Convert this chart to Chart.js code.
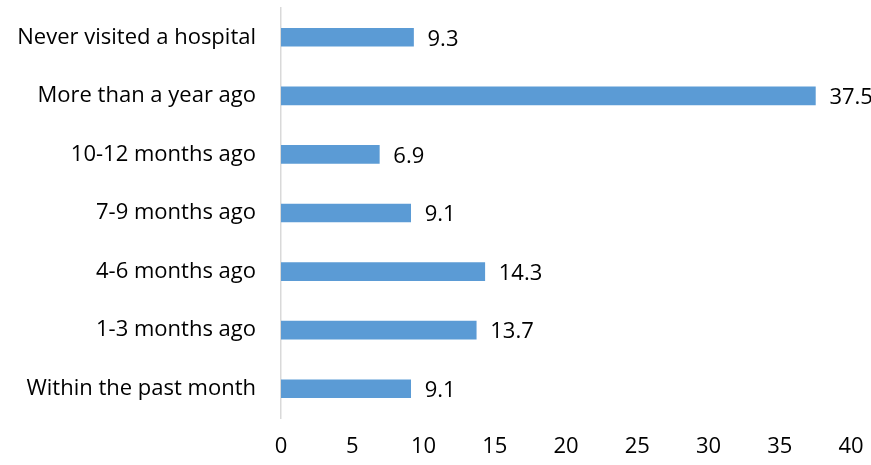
<!DOCTYPE html>
<html>
<head>
<meta charset="utf-8">
<script src="https://cdn.jsdelivr.net/npm/chart.js@4/dist/chart.umd.min.js"></script>
<style>
html,body{margin:0;padding:0;background:#fff;}
#wrap{width:871px;height:465px;position:relative;}
</style>
</head>
<body>
<div id="wrap"><canvas id="c" width="871" height="465"></canvas></div>
<script>
const categories = [
  "Never visited a hospital",
  "More than a year ago",
  "10-12 months ago",
  "7-9 months ago",
  "4-6 months ago",
  "1-3 months ago",
  "Within the past month"
];
const values = [9.3, 37.5, 6.9, 9.1, 14.3, 13.7, 9.1];
const xTicks = [0, 5, 10, 15, 20, 25, 30, 35, 40];

const FONT = "'Open Sans', 'Liberation Sans', sans-serif";
const FSIZE = 22;

const valueLabels = {
  id: 'valueLabels',
  afterDatasetsDraw(chart) {
    const ctx = chart.ctx;
    const meta = chart.getDatasetMeta(0);
    ctx.save();
    ctx.font = FSIZE + "px " + FONT;
    ctx.fillStyle = "#000";
    ctx.textAlign = "left";
    ctx.textBaseline = "middle";
    meta.data.forEach((bar, i) => {
      ctx.fillText(String(values[i]), bar.x + 14, bar.y + 2);
    });
    ctx.restore();
  }
};

new Chart(document.getElementById('c'), {
  type: 'bar',
  data: {
    labels: categories,
    datasets: [{
      data: values,
      backgroundColor: '#5B9BD5',
      borderWidth: 0,
      barThickness: 18
    }]
  },
  options: {
    indexAxis: 'y',
    responsive: false,
    animation: false,
    layout: { padding: { top: 8, right: 20, left: 0, bottom: 0 } },
    plugins: { legend: { display: false }, tooltip: { enabled: false } },
    scales: {
      x: {
        min: 0, max: 40,
        afterBuildTicks(scale) { scale.ticks = xTicks.map(v => ({ value: v })); },
        afterFit(scale) { scale.height = 47; scale.paddingLeft = 0; scale.paddingRight = 0; },
        grid: { display: false, drawTicks: false },
        border: { display: false },
        ticks: { color: '#000', font: { family: FONT, size: FSIZE }, padding: 16, maxRotation: 0 }
      },
      y: {
        afterFit(scale) { scale.width = 281; scale.paddingTop = 0; scale.paddingBottom = 0; },
        grid: { display: false, drawTicks: false },
        border: { display: true, color: '#d9d9d9', width: 1.5 },
        ticks: { color: '#000', font: { family: FONT, size: FSIZE }, padding: 25 }
      }
    }
  },
  plugins: [valueLabels]
});
</script>
</body>
</html>
